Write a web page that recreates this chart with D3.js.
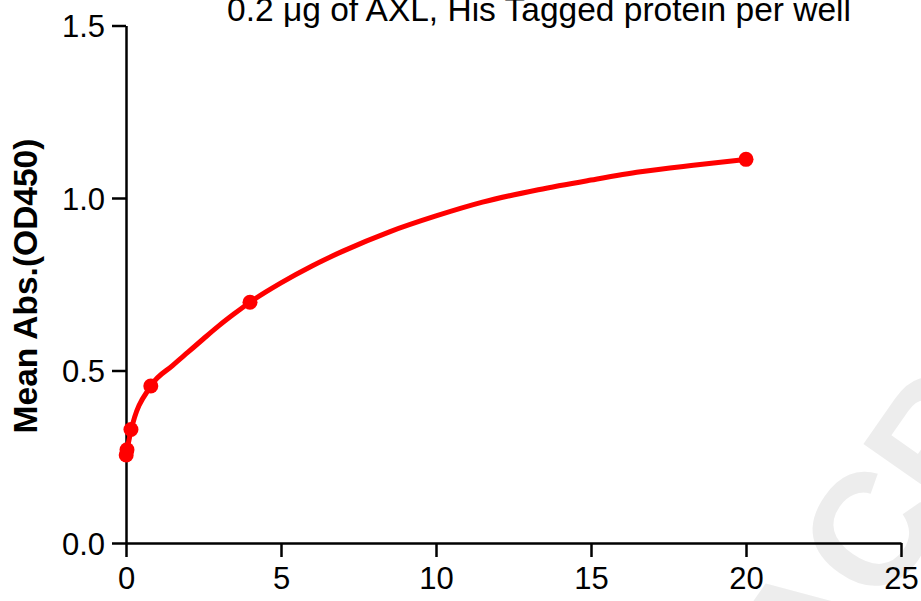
<!DOCTYPE html>
<html>
<head>
<meta charset="utf-8">
<script src="https://cdn.jsdelivr.net/npm/d3@7"></script>
<style>
  html, body { margin: 0; padding: 0; background: #fff; }
  svg { display: block; }
  text { font-family: "Liberation Sans", Arial, sans-serif; }
</style>
</head>
<body>
<svg id="chart" width="921" height="601"></svg>
<script>
// Data
const titleText = "0.2 \u03bcg of AXL, His Tagged protein per well";
const yLabel = "Mean Abs.(OD450)";
const concentrations = [0.0064, 0.032, 0.16, 0.8, 4, 20];
const meanAbs = [0.255, 0.270, 0.329, 0.455, 0.698, 1.112];
const fitX = [0, 0.16, 0.8, 1.5, 2, 2.5, 3, 3.5, 4, 4.5, 5, 6, 7, 8.5, 10, 11.5, 13.3, 15, 16.6, 18.3, 20];
const fitY = [0.255, 0.325, 0.455, 0.514, 0.553, 0.592, 0.630, 0.665, 0.698, 0.727, 0.754, 0.803, 0.846, 0.902, 0.948, 0.988, 1.024, 1.052, 1.076, 1.095, 1.112];
const xTicks = [0, 5, 10, 15, 20, 25];
const yTicks = [0.0, 0.5, 1.0, 1.5];

const svg = d3.select("#chart");
const x = d3.scaleLinear().domain([0, 25]).range([126, 901]);
const y = d3.scaleLinear().domain([0, 1.5]).range([543, 25.5]);

// watermark
svg.append("text")
  .attr("transform", "translate(815,705) rotate(-55)")
  .attr("font-family", "DejaVu Serif")
  .attr("font-weight", "bold")
  .attr("font-size", 160)
  .attr("fill", "#ededed")
  .text("ACRO");

// axes
const xAxis = d3.axisBottom(x).tickValues(xTicks).tickFormat(d3.format("d")).tickSize(14).tickSizeOuter(0).tickPadding(6);
const yAxis = d3.axisLeft(y).tickValues(yTicks).tickFormat(d3.format(".1f")).tickSize(14).tickSizeOuter(0).tickPadding(7);

const gx = svg.append("g").attr("transform", `translate(0,${y(0)})`).call(xAxis);
const gy = svg.append("g").attr("transform", `translate(${x(0)},0)`).call(yAxis);
[gx, gy].forEach(g => {
  g.select(".domain").attr("stroke", "#000").attr("stroke-width", 2.5);
  g.selectAll(".tick line").attr("stroke", "#000").attr("stroke-width", 2.5);
  g.selectAll(".tick text").attr("fill", "#000").attr("font-size", 31)
    .attr("font-family", "'Liberation Sans', Arial, sans-serif");
});
gx.selectAll(".tick text").attr("dy", "0.85em");
gy.selectAll(".tick text").attr("dy", "0.36em");

// y label
svg.append("text")
  .attr("transform", `translate(37,${286}) rotate(-90)`)
  .attr("text-anchor", "middle")
  .attr("font-size", 33.5)
  .attr("font-weight", "bold")
  .attr("fill", "#000")
  .text(yLabel);

// title
svg.append("text")
  .attr("x", 539).attr("y", 21)
  .attr("text-anchor", "middle")
  .attr("font-size", 33.5)
  .attr("fill", "#000")
  .text(titleText);

// fit curve
const fit = fitX.map((d, i) => [d, fitY[i]]);
svg.append("path")
  .datum(fit)
  .attr("fill", "none")
  .attr("stroke", "#ff0000")
  .attr("stroke-width", 5)
  .attr("stroke-linejoin", "round")
  .attr("d", d3.line().x(d => x(d[0])).y(d => y(d[1])).curve(d3.curveMonotoneX));

// points
svg.append("g").selectAll("circle")
  .data(concentrations.map((c, i) => [c, meanAbs[i]]))
  .join("circle")
  .attr("cx", d => x(d[0]))
  .attr("cy", d => y(d[1]))
  .attr("r", 7.5)
  .attr("fill", "#ff0000");
</script>
</body>
</html>
